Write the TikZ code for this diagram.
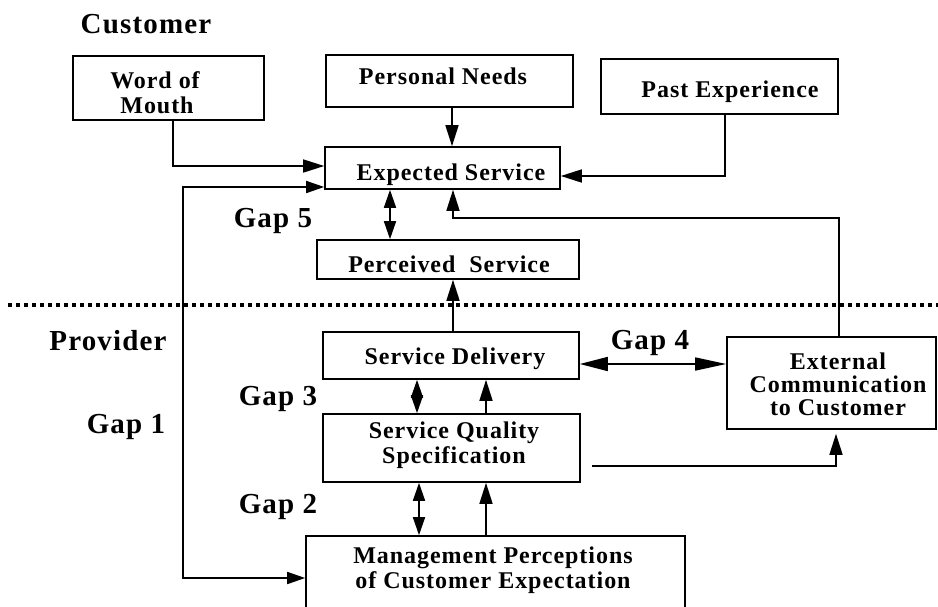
\documentclass[tikz,border=0pt]{standalone}
\usepackage{fontspec}
\setmainfont{Liberation Serif}[LetterSpace=4]
\usetikzlibrary{arrows.meta}
\begin{document}
\begin{tikzpicture}[x=1pt,y=-1pt,
  box/.style={draw, line width=1.6pt, inner sep=0pt},
  txt/.style={inner sep=0pt, align=center, font=\fontsize{24}{25}\selectfont\bfseries},
  lbl/.style={inner sep=0pt, anchor=base, font=\fontsize{29}{30}\selectfont\bfseries},
  conn/.style={line width=1.6pt},
  tip/.style={-{Triangle[length=21pt,width=13pt]}},
  both/.style={{Triangle[length=18pt,width=12pt]}-{Triangle[length=18pt,width=12pt]}},
  bigboth/.style={{Triangle[length=28pt,width=14pt]}-{Triangle[length=31pt,width=13pt]}},
  divider/.style={line width=3.8pt, dash pattern=on 4pt off 4pt}
]
\useasboundingbox (0,0) rectangle (938,606);

% section titles and gap labels
\node[lbl] (cust) at (146,33) {Customer};
\node[lbl] (prov) at (108,350) {Provider};
\node[lbl] (gap5) at (273,227) {Gap 5};
\node[lbl] (gap3) at (278,405) {Gap 3};
\node[lbl] (gap1) at (126,433) {Gap 1};
\node[lbl] (gap2) at (278,513) {Gap 2};
\node[lbl] (gap4) at (650,349) {Gap 4};

% customer / provider divider
\draw[divider] (8,305) -- (938,305);

% boxes
\node[box, minimum width=191, minimum height=64] (wom) at (168.5,88) {};
\node[box, minimum width=247, minimum height=52] (pn)  at (449.5,81) {};
\node[box, minimum width=237, minimum height=55] (pe)  at (719.5,86.5) {};
\node[box, minimum width=235, minimum height=42] (exp) at (442.5,168) {};
\node[box, minimum width=262, minimum height=39] (per) at (448,259.5) {};
\node[box, minimum width=256, minimum height=47] (sd)  at (451,355.5) {};
\node[box, minimum width=257, minimum height=68] (sqs) at (451.5,448) {};
\node[box, minimum width=379, minimum height=84] (mgmt) at (495.5,578) {};
\node[box, minimum width=209, minimum height=92] (ext) at (831.5,383) {};

% box texts
\node[txt] (womT) at (155,93) {Word of\\\hspace*{4pt}Mouth};
\node[txt, anchor=base] (pnT) at (443,84) {Personal Needs};
\node[txt, anchor=base] (peT) at (730,97) {Past Experience};
\node[txt, anchor=base] (expT) at (451,180) {Expected Service};
\node[txt, anchor=base] (perT) at (449,272) {Perceived\ \ Service};
\node[txt, anchor=base] (sdT) at (455,364) {Service Delivery};
\node[txt] (sqsT) at (454,445) {Service Quality\\Specification};
\node[txt] (mgmtT) at (493,570) {Management Perceptions\\of Customer Expectation};
\node[txt, font=\fontsize{24}{23}\selectfont\bfseries] (extT) at (838,384) {External\\Communication\\to Customer};

% customer side connectors
\draw[conn,tip] ([xshift=4.5pt]wom.south) |- ([yshift=2pt]exp.west);
\draw[conn,tip] ([xshift=2.5pt]pn.south) -- ([xshift=2.5pt]pn.south |- exp.north);
\draw[conn,tip] ([xshift=5.5pt]pe.south) |- ([yshift=-8pt]exp.east);
\draw[conn,both] ([xshift=-52.5pt]exp.south) -- ([xshift=-52.5pt]exp.south |- per.north);

% gap 1: expected service <-> management perceptions
\coordinate (g1) at (183,400);
\draw[conn,both] ([yshift=-19pt]exp.west) -| (g1) |- (mgmt.west);

% external communication feeds expected service
\coordinate (bend) at (453,218);
\draw[conn,tip] ([xshift=7.5pt]ext.north) |- (bend) -- (bend |- exp.south);

% provider side connectors
\coordinate (g4) at ([yshift=-8.5pt]sd.east);
\draw[conn,tip] ([xshift=2pt]sd.north) -- ([xshift=2pt]sd.north |- per.south);
\draw[conn,bigboth] (g4) -- (ext.west |- g4);
\draw[conn,both] ([xshift=-34pt]sd.south) -- ([xshift=-34pt]sd.south |- sqs.north);
\draw[conn,tip] ([xshift=34.5pt]sqs.north) -- ([xshift=34.5pt]sqs.north |- sd.south);
\draw[conn,both] ([xshift=-32.5pt]sqs.south) -- ([xshift=-32.5pt]sqs.south |- mgmt.north);
\draw[conn,tip] ([xshift=34.5pt]sqs.south |- mgmt.north) -- ([xshift=34.5pt]sqs.south);
\draw[conn,tip] ([xshift=11pt,yshift=-18pt]sqs.east) -| ([xshift=4.5pt,yshift=-4pt]ext.south);
\end{tikzpicture}
\end{document}
